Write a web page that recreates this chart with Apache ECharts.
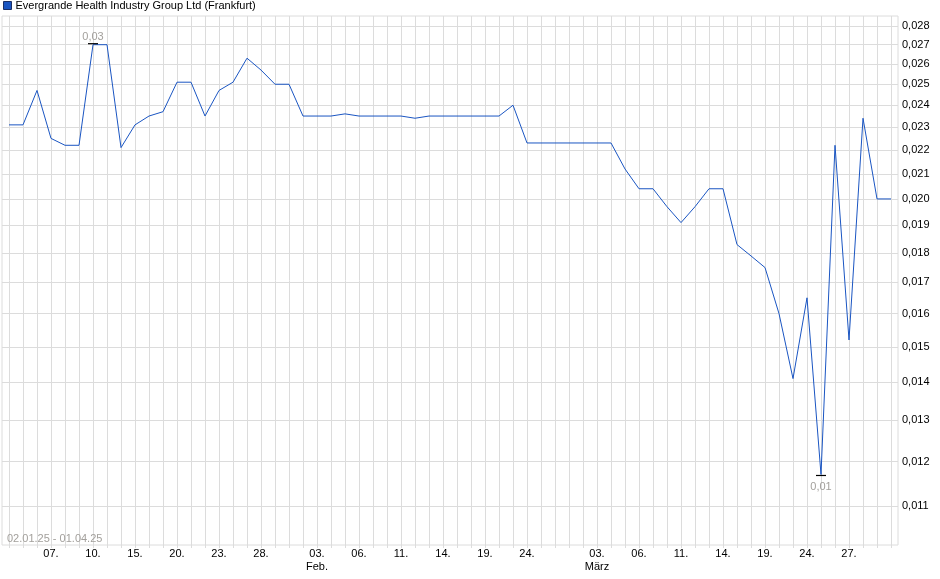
<!DOCTYPE html>
<html>
<head>
<meta charset="utf-8">
<script src="https://cdn.jsdelivr.net/npm/echarts@6/dist/echarts.min.js"></script>
<style>
html,body{margin:0;padding:0;background:#fff;}
#chart{width:940px;height:579px;}
</style>
</head>
<body>
<div id="chart"></div>
<script>
const seriesName = 'Evergrande Health Industry Group Ltd (Frankfurt)';
const dateRange = '02.01.25 - 01.04.25';
const dates = [
  '02.01','03.01','06.01','07.01','08.01','09.01','10.01','13.01','14.01','15.01','16.01','17.01','20.01','21.01','22.01','23.01','24.01','27.01','28.01','29.01','30.01','31.01',
  '03.02','04.02','05.02','06.02','07.02','10.02','11.02','12.02','13.02','14.02','17.02','18.02','19.02','20.02','21.02','24.02','25.02','26.02','27.02','28.02',
  '03.03','04.03','05.03','06.03','07.03','10.03','11.03','12.03','13.03','14.03','17.03','18.03','19.03','20.03','21.03','24.03','25.03','26.03','27.03','28.03','31.03',
  '01.04'
];
const prices = [
  0.0231,0.0231,0.0247,0.0225,0.0222,0.0222,0.0270,0.0270,0.0221,0.0231,0.0235,0.0237,0.0251,0.0251,0.0235,0.0247,0.0251,0.0263,0.0257,0.0250,0.0250,0.0235,
  0.0235,0.0235,0.0236,0.0235,0.0235,0.0235,0.0235,0.0234,0.0235,0.0235,0.0235,0.0235,0.0235,0.0235,0.0240,0.0223,0.0223,0.0223,0.0223,0.0223,
  0.0223,0.0223,0.0212,0.0204,0.0204,0.0197,0.0191,0.0197,0.0204,0.0204,0.0183,0.0179,0.0175,0.0160,0.0141,0.0165,0.0117,0.0222,0.0152,0.0234,0.0200,
  0.0200
];
const labelIndices = [3,6,9,12,15,18,22,25,28,31,34,37,42,45,48,51,54,57,60];
const monthNames = ['Jan.','Feb.','März','Apr.'];
const yTicks = [0.011,0.012,0.013,0.014,0.015,0.016,0.017,0.018,0.019,0.020,0.021,0.022,0.023,0.024,0.025,0.026,0.027,0.028];
const yMin = 0.0102, yMax = 0.02855;

const FONT = '"Liberation Sans", Arial, sans-serif';
const GRID = '#dcdcdc';

function xLabel(value, idx) {
  const d = value.slice(0,2) + '.';
  const m = parseInt(value.slice(3,5), 10);
  if (idx > 0 && dates[idx - 1].slice(3,5) !== value.slice(3,5)) {
    return d + '\n' + monthNames[m - 1];
  }
  return d;
}

const chart = echarts.init(document.getElementById('chart'));
chart.setOption({
  animation: false,
  textStyle: { fontFamily: FONT },
  title: {
    text: dateRange, left: 7, top: 533, padding: 0,
    textStyle: { fontSize: 11, fontWeight: 'normal', color: '#a3a09c', fontFamily: FONT }
  },
  legend: {
    data: [{ name: seriesName, icon: 'rect' }],
    left: 3, top: 0, padding: 0, itemWidth: 8, itemHeight: 8, itemGap: 5,
    itemStyle: { borderColor: '#1b2f66', borderWidth: 1 },
    textStyle: { fontSize: 11, color: '#000', fontFamily: FONT, padding: [0,0,0,-1] }
  },
  grid: {
    left: 2, top: 16, width: 896, height: 529,
    show: true, borderColor: GRID, borderWidth: 1
  },
  xAxis: {
    type: 'category',
    data: dates,
    boundaryGap: true,
    axisLine: { show: false },
    axisTick: { show: true, alignWithLabel: true, interval: 0, length: 3, lineStyle: { color: GRID } },
    splitLine: { show: true, alignWithLabel: true, interval: 0, lineStyle: { color: GRID, width: 1 } },
    axisLabel: {
      interval: (i) => labelIndices.includes(i),
      formatter: xLabel,
      fontSize: 11, color: '#000', margin: 2, lineHeight: 13, hideOverlap: false,
      fontFamily: FONT
    }
  },
  yAxis: {
    type: 'log', logBase: 10, min: yMin, max: yMax,
    position: 'right',
    axisLine: { show: false },
    axisTick: { show: false, customValues: yTicks },
    axisLabel: {
      show: true, customValues: yTicks, margin: 4,
      fontSize: 11, color: '#000', fontFamily: FONT,
      formatter: (v) => Number(v).toFixed(3).replace('.', ',')
    },
    splitLine: { show: true, lineStyle: { color: GRID, width: 1 } }
  },
  series: [{
    name: seriesName,
    type: 'line',
    data: prices,
    symbol: 'none',
    showSymbol: false,
    z: 3,
    color: '#1a55c2',
    lineStyle: { color: '#1a55c2', width: 1 },
    emphasis: { disabled: true },
    markPoint: {
      silent: true, z: 4,
      symbol: 'rect', symbolSize: [10, 1.2],
      itemStyle: { color: '#000' },
      label: {
        show: true, fontSize: 11, color: '#a3a09c', fontFamily: FONT,
        formatter: (p) => p.value.toFixed(2).replace('.', ',')
      },
      data: [
        { type: 'max', symbolOffset: [0, -1], label: { position: 'top', distance: 1 } },
        { type: 'min', symbolOffset: [0, 1], label: { position: 'bottom', distance: 5 } }
      ]
    }
  }]
});
</script>
</body>
</html>
